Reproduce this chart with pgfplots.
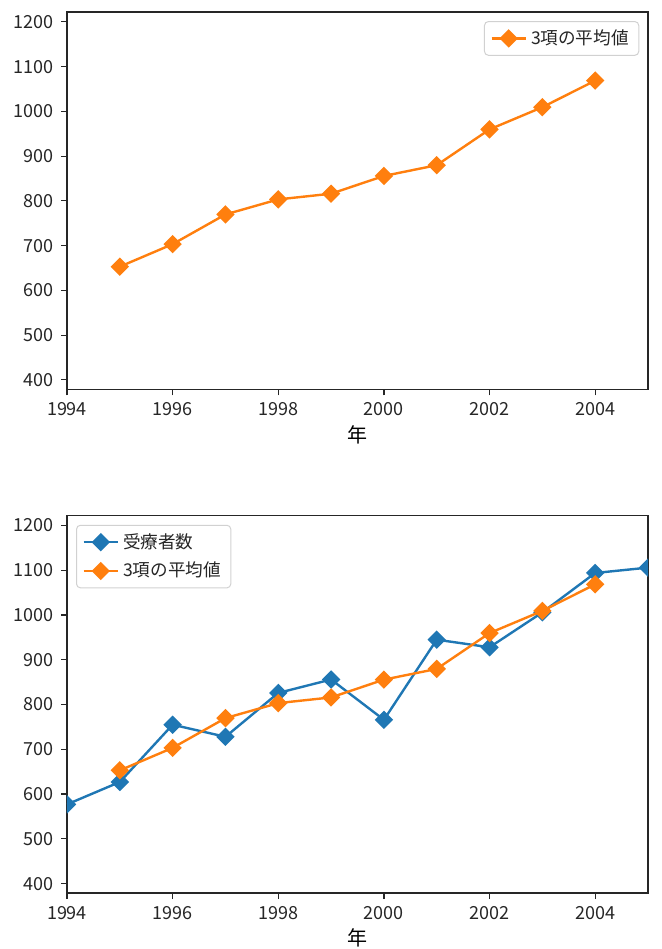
\documentclass[border=0pt]{standalone}
\usepackage{fontspec}
\setmainfont{Noto Sans CJK JP}
\usepackage{pgfplots}
\pgfplotsset{compat=1.18}
\definecolor{cz}{HTML}{1F77B4}
\definecolor{co}{HTML}{FF7F0E}
\definecolor{txt}{HTML}{262626}
\pgfplotstableread{
year val
1994 577
1995 627
1996 755
1997 728
1998 826
1999 856
2000 766
2001 945
2002 928
2003 1006
2004 1094
2005 1106
}\patients
\pgfplotstableread{
year val
1995 653
1996 703.3
1997 769.7
1998 803.3
1999 816
2000 855.7
2001 879.7
2002 959.7
2003 1009.3
2004 1068.7
}\mavg
\pgfplotsset{myax/.style={
  width=290.5pt, height=188.65pt, scale only axis,
  xmin=1994, xmax=2005, ymin=379, ymax=1222,
  xtick={1994,1996,...,2004}, ytick={400,500,...,1200},
  tick align=outside, major tick length=3pt,
  xtick pos=bottom, ytick pos=left,
  minor tick num=0,
  /pgf/number format/assume math mode=true,
  /pgf/number format/1000 sep={},
  tick label style={font=\fontsize{9}{10.8}\selectfont, text=txt},
  label style={font=\fontsize{9}{10.8}\selectfont, text=txt},
  every tick/.style={line width=0.6pt, txt},
  axis line style={line width=0.65pt, txt},
  xlabel={年},
  every axis x label/.style={at={(ticklabel cs:0.5)}, anchor=north, yshift=2pt},
  clip mode=individual, clip marker paths=true,
  legend cell align=left,
  legend style={font=\fontsize{8.8}{10.5}\selectfont, text=txt, draw=black!18, rounded corners=2pt,
    fill=white, line width=0.5pt,
    inner xsep=3pt, inner ysep=2pt, row sep=1.5pt},
  every axis plot/.append style={line width=1.2pt, mark=square*, mark size=2.65pt,
    mark options={rotate=45, solid}},
}}
\begin{document}
\begin{tikzpicture}
\path[use as bounding box] (0,0) rectangle (331pt,474.5pt);
\begin{axis}[myax, at={(33.5pt,279.85pt)}, anchor=south west,
  legend style={at={(0.985,0.976)}, anchor=north east}]
\addplot[co] table[x=year,y=val] {\mavg};
\addlegendentry{3項の平均値}
\end{axis}
\begin{axis}[myax, at={(33.5pt,28pt)}, anchor=south west,
  legend style={at={(0.0155,0.976)}, anchor=north west}]
\addplot[cz] table[x=year,y=val] {\patients};
\addlegendentry{受療者数}
\addplot[co] table[x=year,y=val] {\mavg};
\addlegendentry{3項の平均値}
\end{axis}
\end{tikzpicture}
\end{document}
